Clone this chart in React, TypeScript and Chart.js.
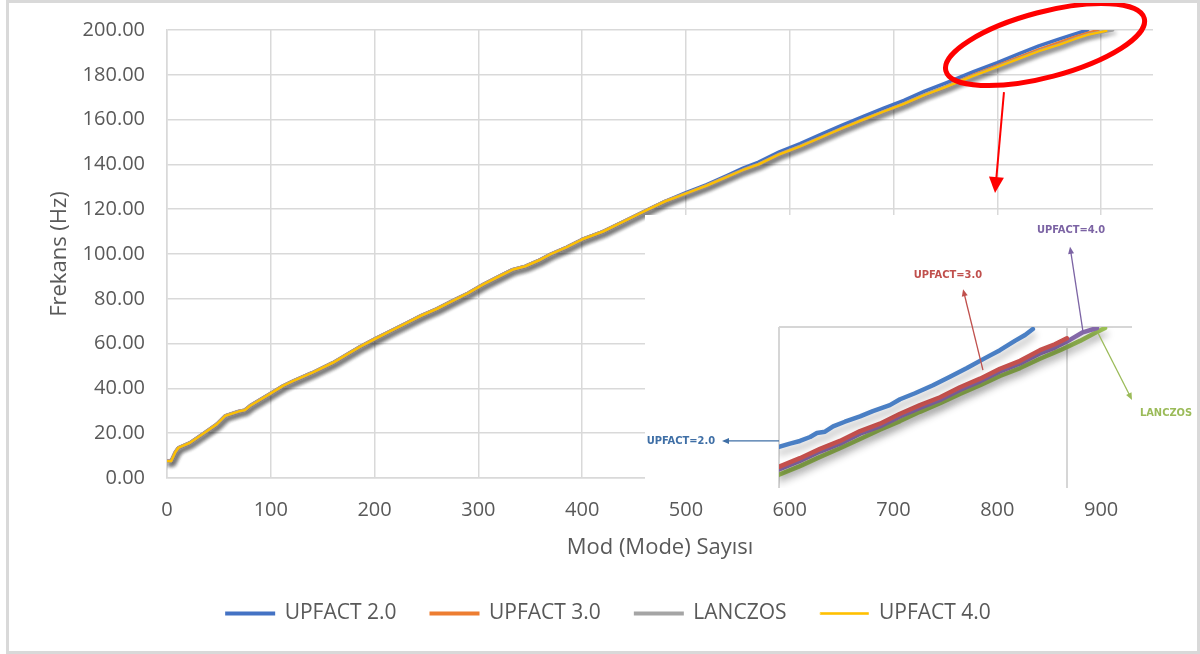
import React, { useEffect, useRef } from "react";
import { Chart, registerables } from "chart.js";

Chart.register(...registerables);

// ---------- main chart data ----------
const seriesNames = ["UPFACT 2.0", "UPFACT 3.0", "LANCZOS", "UPFACT 4.0"];
const seriesColors = ["#4472C4", "#ED7D31", "#A5A5A5", "#FFC000"];

const modes = [
  0, 4, 8, 11, 22, 35, 48, 56, 69, 75, 80, 99, 112, 122, 140, 160, 175, 186, 200, 215,
  230, 245, 260, 277, 290, 305, 320, 333, 345, 360, 370, 385, 400, 420, 440, 464, 480, 500, 520, 540,
  555, 570, 590, 610, 630, 650, 671, 690, 710, 730, 750, 777, 800, 820, 840, 860, 875, 887, 897, 905,
  911,
];

const lanczos = [
  7.5, 7.5, 11.5, 13.5, 15.7, 19.8, 24.0, 27.7, 29.7, 30.3, 32.2, 37.5, 41.2, 43.4, 47.0, 51.5, 55.6, 58.6, 62.0, 65.5,
  69.0, 72.5, 75.5, 79.5, 82.5, 86.5, 90.0, 93.0, 94.5, 97.5, 100.0, 103.0, 106.5, 110.0, 114.5, 120.0, 123.5, 127.0, 130.5, 134.5,
  137.5, 140.0, 144.5, 148.0, 152.0, 156.0, 160.0, 163.5, 167.0, 171.0, 174.5, 179.5, 183.5, 187.0, 190.5, 193.5, 196.0, 197.8, 198.8, 199.5,
  200.0,
];

const upfact2 = [
  7.5, 7.5, 11.5, 13.5, 15.7, 19.8, 24.0, 27.7, 29.7, 30.3, 32.2, 37.5, 41.2, 43.4, 47.0, 51.5, 55.6, 58.6, 62.0, 65.5,
  69.0, 72.5, 75.5, 79.5, 82.5, 86.5, 90.0, 93.0, 94.5, 97.5, 100.0, 103.0, 106.5, 110.0, 114.5, 120.0, 123.5, 127.4, 131.0, 135.1,
  138.3, 141.0, 145.6, 149.3, 153.4, 157.4, 161.4, 165.0, 168.6, 172.7, 176.3, 181.4, 185.4, 189.2, 192.9, 196.0, 198.3, 200.0, null, null,
  null,
];

const upfact3 = [
  7.5, 7.5, 11.5, 13.5, 15.7, 19.8, 24.0, 27.7, 29.7, 30.3, 32.2, 37.5, 41.2, 43.4, 47.0, 51.5, 55.6, 58.6, 62.0, 65.5,
  69.0, 72.5, 75.5, 79.5, 82.5, 86.5, 90.0, 93.0, 94.5, 97.5, 100.0, 103.0, 106.5, 110.0, 114.5, 120.0, 123.5, 127.0, 130.5, 134.5,
  137.5, 140.0, 144.5, 148.0, 152.0, 156.0, 160.0, 163.5, 167.0, 171.0, 174.5, 179.9, 184.0, 187.6, 191.1, 194.3, 196.8, 198.5, 199.8, null,
  null,
];

const upfact4 = [
  7.5, 7.5, 11.5, 13.5, 15.7, 19.8, 24.0, 27.7, 29.7, 30.3, 32.2, 37.5, 41.2, 43.4, 47.0, 51.5, 55.6, 58.6, 62.0, 65.5,
  69.0, 72.5, 75.5, 79.5, 82.5, 86.5, 90.0, 93.0, 94.5, 97.5, 100.0, 103.0, 106.5, 110.0, 114.5, 120.0, 123.5, 127.0, 130.5, 134.5,
  137.5, 140.0, 144.5, 148.0, 152.0, 156.0, 160.0, 163.5, 167.0, 171.0, 174.5, 179.5, 183.5, 187.0, 190.5, 193.5, 196.0, 197.8, 198.8, 199.6,
  null,
];

const xTickValues = [0, 100, 200, 300, 400, 500, 600, 700, 800, 900];
const yTickValues = [0, 20, 40, 60, 80, 100, 120, 140, 160, 180, 200];
const xAxisTitle = "Mod (Mode) Sayısı";
const yAxisTitle = "Frekans (Hz)";

// ---------- inset (zoomed picture) data ----------
const insetNames = ["UPFACT=2.0", "UPFACT=3.0", "UPFACT=4.0", "LANCZOS"];
const insetColors = ["#4a7fc4", "#c4504d", "#8468a8", "#9bc055"];

const insetBlueModes = [790, 794.2, 798, 801.9, 804.5, 807.6, 810.7, 815.2, 821, 825.9, 832.4, 836.3, 842, 848.9, 855.4, 861.9, 868.8, 874.5, 880.2, 884.1, 887.1];
const insetBlue = [181.9, 182.4, 182.8, 183.4, 184.0, 184.2, 185.0, 185.7, 186.5, 187.3, 188.2, 189.1, 190.0, 191.2, 192.5, 193.8, 195.3, 196.5, 197.9, 198.8, 199.7];

const insetRedModes = [790, 798, 805.7, 813.3, 821, 828.6, 836.3, 843.9, 851.6, 859.2, 866.9, 874.5, 882.2, 889.8, 895.5, 900.1];
const insetRed = [178.9, 180.2, 181.6, 182.8, 184.3, 185.4, 186.9, 188.2, 189.4, 190.9, 192.2, 193.7, 194.9, 196.5, 197.4, 198.3];

const insetPurpleModes = [790, 798, 805.7, 813.3, 821, 828.6, 836.3, 843.9, 851.6, 859.2, 866.9, 874.5, 882.2, 889.8, 895.5, 900.1, 906.2, 911.6];
const insetPurple = [178.5, 179.8, 181.2, 182.4, 183.9, 185.0, 186.5, 187.8, 189.0, 190.5, 191.8, 193.3, 194.5, 196.0, 196.9, 197.8, 199.2, 199.85];

const insetGreenModes = [790, 798, 805.7, 813.3, 821, 828.6, 836.3, 843.9, 851.6, 859.2, 866.9, 874.5, 882.2, 889.8, 897.5, 905.1, 910.8, 914.7];
const insetGreen = [177.7, 179.0, 180.4, 181.7, 183.1, 184.5, 185.8, 187.2, 188.5, 189.9, 191.2, 192.6, 193.8, 195.2, 196.5, 197.9, 199.1, 199.85];

const insetGridX = [790, 900];
const insetGridY = [200];

// annotation anchors in inset data units: label centre, arrow tail, arrow head
const insetLabelX = [752.5, 854.6, 901.7, 938.0];
const insetLabelY = [182.8, 207.8, 214.6, 187.0];
const insetArrowFromX = [790.0, 868.0, 906.3, 912.0];
const insetArrowFromY = [182.8, 193.5, 199.2, 199.1];
const insetArrowToX = [768.2, 860.4, 901.3, 925.0];
const insetArrowToY = [182.8, 205.7, 212.1, 189.0];
const insetLabelColors = ["#3f6fa6", "#c0504d", "#7c64a4", "#9bbb59"];

// red highlight (main chart data units)
const ellipseCenter = { x: 846, y: 193.5 };
const ellipseShape = { rx: 102.6, ry: 32.6, angleDeg: -14.8 };
const redArrowFrom = { x: 806.4, y: 172.3 };
const redArrowTo = { x: 797.8, y: 127.2 };

const FONT = "'Open Sans', 'Noto Sans', sans-serif";
const TEXT = "#595959";
const GRID = "#d9d9d9";

function pts(xs: number[], ys: (number | null)[]) {
  return xs.map((x, i) => ({ x, y: ys[i] }));
}

function drawArrow(
  ctx: CanvasRenderingContext2D,
  x1: number, y1: number, x2: number, y2: number,
  color: string, width: number, headLen: number, headW: number
) {
  const a = Math.atan2(y2 - y1, x2 - x1);
  const c = Math.cos(a), s = Math.sin(a);
  ctx.save();
  ctx.strokeStyle = color;
  ctx.fillStyle = color;
  ctx.lineWidth = width;
  ctx.beginPath();
  ctx.moveTo(x1, y1);
  ctx.lineTo(x2 - headLen * 0.7 * c, y2 - headLen * 0.7 * s);
  ctx.stroke();
  ctx.beginPath();
  ctx.moveTo(x2, y2);
  ctx.lineTo(x2 - headLen * c + (headW / 2) * s, y2 - headLen * s - (headW / 2) * c);
  ctx.lineTo(x2 - headLen * c - (headW / 2) * s, y2 - headLen * s + (headW / 2) * c);
  ctx.closePath();
  ctx.fill();
  ctx.restore();
}

function shadowPlugin(color: string, blur: number, dx: number, dy: number) {
  return {
    id: "lineShadow",
    beforeDatasetDraw(chart: any) {
      const c = chart.ctx;
      c.save();
      c.shadowColor = color;
      c.shadowBlur = blur;
      c.shadowOffsetX = dx;
      c.shadowOffsetY = dy;
    },
    afterDatasetDraw(chart: any) {
      chart.ctx.restore();
    },
  };
}

const highlightPlugin = {
  id: "highlight",
  afterDraw(chart: any) {
    const { ctx, scales } = chart;
    const xs = scales.x, ys = scales.y;
    const cx = xs.getPixelForValue(ellipseCenter.x);
    const cy = ys.getPixelForValue(ellipseCenter.y);
    ctx.save();
    ctx.strokeStyle = "#ff0000";
    ctx.lineWidth = 5;
    ctx.beginPath();
    ctx.ellipse(cx, cy, ellipseShape.rx, ellipseShape.ry, (ellipseShape.angleDeg * Math.PI) / 180, 0, Math.PI * 2);
    ctx.stroke();
    ctx.restore();
    drawArrow(
      ctx,
      xs.getPixelForValue(redArrowFrom.x), ys.getPixelForValue(redArrowFrom.y),
      xs.getPixelForValue(redArrowTo.x), ys.getPixelForValue(redArrowTo.y),
      "#ff0000", 2, 16, 15
    );
  },
};

const insetAnnotations = {
  id: "insetAnnotations",
  afterDraw(chart: any) {
    const { ctx, scales } = chart;
    const xs = scales.x, ys = scales.y;
    for (let i = 0; i < insetNames.length; i++) {
      drawArrow(
        ctx,
        xs.getPixelForValue(insetArrowFromX[i]), ys.getPixelForValue(insetArrowFromY[i]),
        xs.getPixelForValue(insetArrowToX[i]), ys.getPixelForValue(insetArrowToY[i]),
        insetLabelColors[i], 1.3, 7, 6
      );
      ctx.save();
      ctx.font = "bold 11px 'DejaVu Sans Condensed', 'DejaVu Sans', sans-serif";
      ctx.fillStyle = insetLabelColors[i];
      ctx.textAlign = "center";
      ctx.textBaseline = "middle";
      ctx.fillText(insetNames[i], xs.getPixelForValue(insetLabelX[i]), ys.getPixelForValue(insetLabelY[i]));
      ctx.restore();
    }
  },
};

const legendLineWidths = [2, 2, 2, 0.6];

export default function App() {
  const mainRef = useRef<HTMLCanvasElement>(null);
  const insetRef = useRef<HTMLCanvasElement>(null);

  useEffect(() => {
    document.body.style.margin = "0";
    const seriesData = [upfact2, upfact3, lanczos, upfact4];
    const widths = [3.5, 3.5, 3.5, 2.3];
    const orders = [4, 3, 2, 1];

    const main = new Chart(mainRef.current as HTMLCanvasElement, {
      type: "line",
      data: {
        datasets: seriesNames.map((name, i) => ({
          label: name,
          data: pts(modes, seriesData[i]),
          borderColor: seriesColors[i],
          backgroundColor: seriesColors[i],
          borderWidth: widths[i],
          pointRadius: 0,
          tension: 0,
          spanGaps: false,
          order: orders[i],
          borderCapStyle: "round",
          borderJoinStyle: "round",
        })) as any,
      },
      options: {
        responsive: false,
        animation: false,
        devicePixelRatio: 1,
        layout: { padding: { top: 30, left: 17, right: 0, bottom: 20 } },
        plugins: {
          tooltip: { enabled: false },
          legend: {
            position: "bottom",
            labels: {
              boxWidth: 48,
              boxHeight: 2,
              padding: 34,
              color: TEXT,
              font: { family: FONT, size: 21 },
              generateLabels: (chart: any) =>
                chart.data.datasets.map((ds: any, i: number) => ({
                  text: ds.label,
                  fillStyle: ds.borderColor,
                  strokeStyle: ds.borderColor,
                  lineWidth: legendLineWidths[i],
                  lineCap: "round",
                  hidden: false,
                  datasetIndex: i,
                  fontColor: TEXT,
                })),
            },
          },
        },
        scales: {
          x: {
            type: "linear",
            min: 0,
            max: 950,
            afterBuildTicks: (s: any) => {
              s.ticks = xTickValues.map((v) => ({ value: v }));
            },
            afterFit: (s: any) => {
              s.height = 91;
            },
            ticks: {
              autoSkip: false,
              maxRotation: 0,
              padding: 20,
              color: TEXT,
              font: { family: FONT, size: 20 },
            },
            grid: { color: GRID, lineWidth: 1.5, drawTicks: false },
            border: { color: GRID, width: 1.5 },
            title: {
              display: true,
              text: xAxisTitle,
              color: TEXT,
              font: { family: FONT, size: 22 },
              padding: { top: 0, bottom: 8 },
            },
          },
          y: {
            type: "linear",
            min: 0,
            max: 200,
            afterBuildTicks: (s: any) => {
              s.ticks = yTickValues.map((v) => ({ value: v }));
            },
            afterFit: (s: any) => {
              s.width = 150;
              s.paddingTop = 12;
              s.paddingBottom = 12;
            },
            ticks: {
              padding: 22,
              color: TEXT,
              font: { family: FONT, size: 20 },
              callback: (v: any) => Number(v).toFixed(2),
            },
            grid: { color: GRID, lineWidth: 1.5, drawTicks: false },
            border: { color: GRID, width: 1.5 },
            title: {
              display: true,
              text: yAxisTitle,
              color: TEXT,
              font: { family: FONT, size: 22 },
              padding: { top: 30, bottom: 0 },
            },
          },
          y2: {
            type: "linear",
            position: "right",
            display: true,
            afterFit: (s: any) => {
              s.width = 47;
              s.paddingTop = 0;
              s.paddingBottom = 0;
            },
            ticks: { display: false },
            grid: { display: false, drawTicks: false },
            border: { display: false },
          },
        },
      } as any,
      plugins: [shadowPlugin("rgba(0,0,0,0.3)", 4, 2, 3), highlightPlugin],
    });

    const insetSeries = [
      pts(insetBlueModes, insetBlue),
      pts(insetRedModes, insetRed),
      pts(insetPurpleModes, insetPurple),
      pts(insetGreenModes, insetGreen),
    ];
    const insetOrders = [1, 2, 3, 4];

    const inset = new Chart(insetRef.current as HTMLCanvasElement, {
      type: "line",
      data: {
        datasets: insetNames.map((name, i) => ({
          label: name,
          data: insetSeries[i],
          borderColor: insetColors[i],
          borderWidth: 4.5,
          pointRadius: 0,
          tension: 0,
          order: insetOrders[i],
          borderCapStyle: "round",
          borderJoinStyle: "round",
        })) as any,
      },
      options: {
        responsive: false,
        animation: false,
        devicePixelRatio: 1,
        layout: { padding: { left: 134, top: 112, right: 68, bottom: 0 } },
        plugins: { legend: { display: false }, tooltip: { enabled: false } },
        scales: {
          x: {
            type: "linear",
            min: 790,
            max: 925,
            afterBuildTicks: (s: any) => {
              s.ticks = insetGridX.map((v) => ({ value: v }));
            },
            ticks: { display: false },
            grid: { color: "#d6d6d6", lineWidth: 2, drawTicks: false },
            border: { display: false },
          },
          y: {
            type: "linear",
            min: 175.7,
            max: 200,
            afterBuildTicks: (s: any) => {
              s.ticks = insetGridY.map((v) => ({ value: v }));
            },
            ticks: { display: false },
            grid: { color: "#d6d6d6", lineWidth: 2, drawTicks: false },
            border: { display: false },
          },
        },
      } as any,
      plugins: [shadowPlugin("rgba(0,0,0,0.28)", 7, 1, 6), insetAnnotations],
    });

    return () => {
      main.destroy();
      inset.destroy();
    };
  }, []);

  return (
    <div style={{ position: "relative", width: 1200, height: 654, background: "#ffffff", overflow: "hidden" }}>
      <canvas ref={mainRef} width={1200} height={654} style={{ position: "absolute", left: 0, top: 0 }} />
      <div style={{ position: "absolute", left: 645, top: 215, width: 555, height: 273, background: "#ffffff" }}>
        <canvas ref={insetRef} width={555} height={273} style={{ display: "block" }} />
      </div>
      <div
        style={{
          position: "absolute",
          left: 6,
          top: 0,
          width: 1194,
          height: 654,
          border: "3px solid #d9d9d9",
          boxSizing: "border-box",
          pointerEvents: "none",
        }}
      />
    </div>
  );
}
